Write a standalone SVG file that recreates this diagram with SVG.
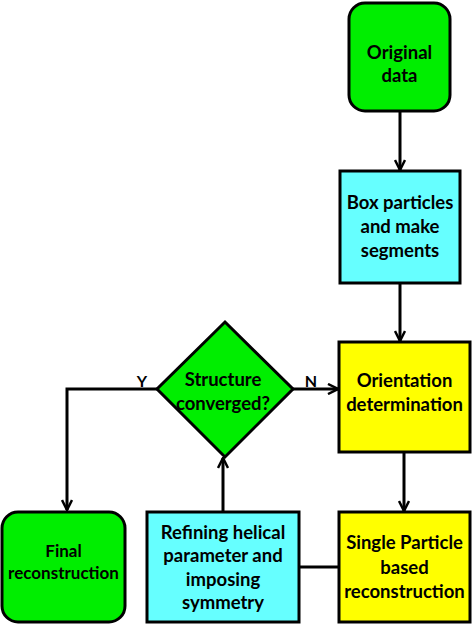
<svg xmlns="http://www.w3.org/2000/svg" width="472" height="624" viewBox="0 0 472 624">
<style>
.n{stroke:#000;stroke-width:3}
.g{fill:#00ee00}
.c{fill:#66ffff}
.y{fill:#ffff00}
text{font-family:Lato,"Liberation Sans",sans-serif;font-weight:bold;font-size:18.5px;text-anchor:middle;fill:#000}
.s{font-size:17px}
.l{font-size:16px}
.e{fill:none;stroke:#000;stroke-width:3}
</style>
<defs>
<marker id="a" viewBox="0 0 12 12" refX="11" refY="6" markerWidth="12" markerHeight="12" markerUnits="userSpaceOnUse" orient="auto">
<path d="M1,1 L11,6 L1,11" fill="none" stroke="#000" stroke-width="2.5"/>
</marker>
</defs>
<g id="connectors">
<path class="e" d="M400,111 V170" marker-end="url(#a)"/>
<path class="e" d="M400,283 V341" marker-end="url(#a)"/>
<path class="e" d="M293,389 H338" marker-end="url(#a)"/>
<path class="e" d="M157,389 H67 V510" marker-end="url(#a)"/>
<path class="e" d="M404,452 V511" marker-end="url(#a)"/>
<path class="e" d="M223,512 V458" marker-end="url(#a)"/>
<path class="e" d="M299,567 H339"/>
<text x="142" y="387" class="l">Y</text>
<text x="311" y="387" class="l">N</text>
</g>
<g id="original">
<rect class="n g" x="349" y="3" width="101" height="108" rx="16"/>
<text x="399.5" y="59">Original</text>
<text x="399.5" y="82">data</text>
</g>
<g id="box">
<rect class="n c" x="340" y="171" width="120" height="112"/>
<text x="400" y="209">Box particles</text>
<text x="400" y="233">and make</text>
<text x="400" y="257">segments</text>
</g>
<g id="orientation">
<rect class="n y" x="339" y="342" width="131" height="110"/>
<text x="404.5" y="387">Orientation</text>
<text x="404.5" y="411">determination</text>
</g>
<g id="decision">
<polygon class="n g" points="225,322 293,389 225,457 157,389"/>
<text x="223" y="386">Structure</text>
<text x="223" y="410">converged?</text>
</g>
<g id="final">
<rect class="n g" x="2" y="512" width="123" height="110" rx="16"/>
<text x="63.5" y="557" class="s">Final</text>
<text x="63.5" y="579" class="s">reconstruction</text>
</g>
<g id="refining">
<rect class="n c" x="147" y="512" width="152" height="110"/>
<text x="223" y="539">Refining helical</text>
<text x="223" y="562">parameter and</text>
<text x="223" y="586">imposing</text>
<text x="223" y="609">symmetry</text>
</g>
<g id="single">
<rect class="n y" x="339" y="512" width="131" height="110"/>
<text x="404.5" y="549">Single Particle</text>
<text x="404.5" y="574">based</text>
<text x="404.5" y="598">reconstruction</text>
</g>
</svg>
